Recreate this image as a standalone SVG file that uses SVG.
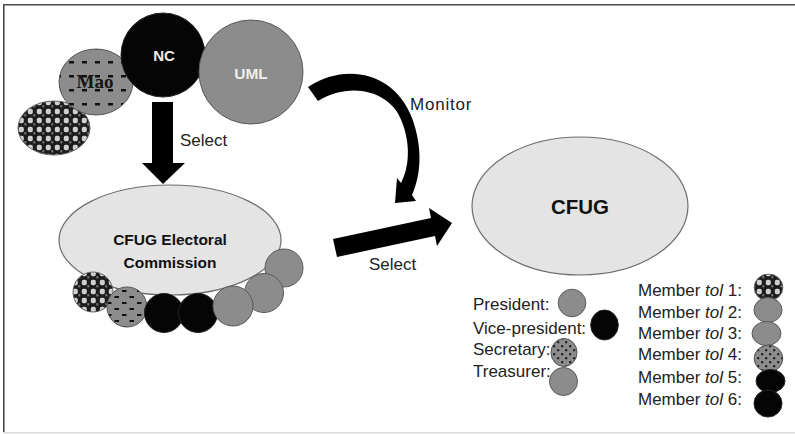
<svg xmlns="http://www.w3.org/2000/svg" width="795" height="434" viewBox="0 0 795 434">
<style>
.lbl{font-family:"Liberation Sans",Arial,sans-serif;font-size:17px;fill:#222}
.bold{font-family:"Liberation Sans",Arial,sans-serif;font-weight:bold;fill:#111}
.gray{fill:#8c8c8c;stroke:#5a5a5a;stroke-width:1}
.blk{fill:#050505;stroke:#222;stroke-width:1}
.light{fill:#e4e4e4;stroke:#6e6e6e;stroke-width:1.2}
.arrow{fill:#000}
</style>
<defs>
<pattern id="plaid" width="9" height="9" patternUnits="userSpaceOnUse">
<rect width="9" height="9" fill="#1c1c1c"/>
<rect x="0.8" y="0.8" width="5" height="5.5" rx="1.8" fill="#cfcfcf"/>
<rect x="6.3" y="6.2" width="2" height="2.2" fill="#7a7a7a"/>
</pattern>
<pattern id="dashbig" width="13" height="14" patternUnits="userSpaceOnUse">
<rect width="13" height="14" fill="#8c8c8c"/>
<rect x="4" y="5" width="5" height="2.5" fill="#111"/>
</pattern>
<pattern id="dashsm" width="15" height="12" patternUnits="userSpaceOnUse">
<rect width="15" height="12" fill="#8c8c8c"/>
<rect x="2" y="2" width="4.5" height="2" fill="#111"/>
<rect x="9.5" y="8" width="4.5" height="2" fill="#111"/>
</pattern>
<pattern id="dots" width="8" height="8" patternUnits="userSpaceOnUse">
<rect width="8" height="8" fill="#8c8c8c"/>
<rect x="1.2" y="1.2" width="2" height="2" fill="#111"/>
<rect x="5.2" y="5.2" width="2" height="2" fill="#111"/>
</pattern>
</defs>
<rect width="795" height="434" fill="#fff"/>
<g id="frame" fill="none">
<line x1="3" y1="4.8" x2="795" y2="4.8" stroke="#4a4a4a" stroke-width="1.6"/>
<line x1="3.8" y1="4" x2="3.8" y2="432" stroke="#4a4a4a" stroke-width="1.6"/>
<line x1="3" y1="432.8" x2="795" y2="432.8" stroke="#dcdcdc" stroke-width="1.6"/>
</g>
<g id="parties">
<g id="node-plaid"><ellipse cx="54" cy="128" rx="36" ry="27" fill="url(#plaid)" stroke="#666" stroke-width="1"/></g>
<g id="node-mao"><ellipse cx="96" cy="82" rx="37" ry="33" fill="url(#dashbig)" stroke="#555" stroke-width="1"/>
<text x="95" y="88" text-anchor="middle" style="font-family:'Liberation Serif','Times New Roman',serif;font-weight:bold;font-size:19px;fill:#151515">Mao</text></g>
<g id="node-nc"><circle cx="163" cy="55" r="42" class="blk"/>
<text x="164" y="61" text-anchor="middle" class="bold" style="font-size:15px;fill:#eee">NC</text></g>
<g id="node-uml"><circle cx="251" cy="72" r="52" class="gray"/>
<text x="251" y="79" text-anchor="middle" class="bold" style="font-size:15.5px;fill:#eee">UML</text></g>
</g>
<g id="connectors">
<polygon class="arrow" points="152,102 173,102 173,163 185,163 163,184 142,163 152,163"/>
<path class="arrow" d="M308,87 C345,62 395,72 412,118 C423,148 421,175 412,195 L416,201 L395,203 L397,178 L401,183 C409,168 411,145 402,122 C392,92 352,80 318,101 Z"/>
<polygon class="arrow" points="333,239 431,218 429,208 452,223 437,246 435,236 337,257"/>
<text x="180" y="146" class="lbl">Select</text>
<text x="410" y="110" class="lbl" style="letter-spacing:0.8px">Monitor</text>
<text x="369" y="270" class="lbl">Select</text>
</g>
<g id="node-commission">
<ellipse cx="170" cy="240" rx="111" ry="55" class="light"/>
<text x="170" y="245" text-anchor="middle" class="bold" style="font-size:15.5px">CFUG Electoral</text>
<text x="170" y="268" text-anchor="middle" class="bold" style="font-size:15.5px">Commission</text>
<circle cx="93" cy="292" r="20" fill="url(#plaid)" stroke="#666" stroke-width="1"/>
<circle cx="127" cy="307" r="20" fill="url(#dashsm)" stroke="#555" stroke-width="1"/>
<circle cx="164" cy="313" r="19.5" class="blk"/>
<circle cx="198" cy="313" r="19.5" class="blk"/>
<circle cx="284" cy="268" r="19" class="gray"/>
<circle cx="264" cy="293" r="19.5" class="gray"/>
<circle cx="233" cy="306" r="20" class="gray"/>
</g>
<g id="node-cfug">
<ellipse cx="580" cy="206" rx="108" ry="69" class="light"/>
<text x="580" y="214" text-anchor="middle" class="bold" style="font-size:20.5px">CFUG</text>
</g>
<g id="legend-officers">
<text x="473" y="310" class="lbl">President:</text>
<circle cx="572" cy="303" r="13.8" class="gray"/>
<text x="473" y="334" class="lbl">Vice-president:</text>
<ellipse cx="604.5" cy="325" rx="13.8" ry="15" class="blk"/>
<text x="473" y="355" class="lbl">Secretary:</text>
<ellipse cx="564" cy="352.5" rx="13" ry="14" fill="url(#dots)" stroke="#555" stroke-width="1"/>
<text x="473" y="377" class="lbl">Treasurer:</text>
<circle cx="563.5" cy="381.5" r="14" class="gray"/>
</g>
<g id="legend-members">
<text x="638" y="296" class="lbl">Member <tspan font-style="italic">tol</tspan> 1:</text>
<ellipse cx="768.5" cy="287.5" rx="14.3" ry="13.5" fill="url(#plaid)" stroke="#666" stroke-width="1"/>
<text x="638" y="318" class="lbl">Member <tspan font-style="italic">tol</tspan> 2:</text>
<ellipse cx="768" cy="310" rx="14" ry="12.5" class="gray"/>
<text x="638" y="339" class="lbl">Member <tspan font-style="italic">tol</tspan> 3:</text>
<ellipse cx="766.5" cy="333.5" rx="14.5" ry="12" class="gray"/>
<text x="638" y="360" class="lbl">Member <tspan font-style="italic">tol</tspan> 4:</text>
<ellipse cx="768.5" cy="358.5" rx="14.3" ry="13.5" fill="url(#dots)" stroke="#555" stroke-width="1"/>
<text x="638" y="383" class="lbl">Member <tspan font-style="italic">tol</tspan> 5:</text>
<ellipse cx="770.5" cy="381" rx="14.5" ry="11.5" class="blk"/>
<text x="638" y="405" class="lbl">Member <tspan font-style="italic">tol</tspan> 6:</text>
<ellipse cx="768" cy="403.5" rx="14" ry="13.5" class="blk"/>
</g>
</svg>
